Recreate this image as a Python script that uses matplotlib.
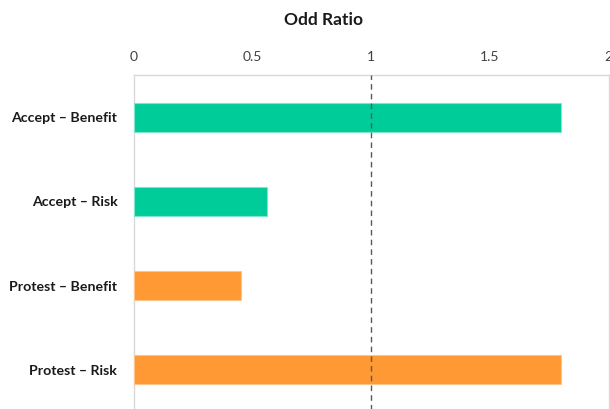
import matplotlib
matplotlib.use("Agg")
import matplotlib.pyplot as plt

# ── Data ──────────────────────────────────────────────────────────────────────
CATEGORIES = ["Accept – Benefit", "Accept – Risk", "Protest – Benefit", "Protest – Risk"]
ODDS_RATIO = [1.80, 0.56, 0.45, 1.80]
GROUPS     = ["accept", "accept", "protest", "protest"]
X_TICKS    = [0, 0.5, 1, 1.5, 2]
X_LABELS   = ["0", "0.5", "1", "1.5", "2"]

COLORS = {"accept": "#00CC99", "protest": "#FF9933"}
EDGES  = {"accept": "#7FE5CC", "protest": "#FFC48A"}

plt.rcParams["font.family"] = ["Lato", "DejaVu Sans"]

fig = plt.figure(figsize=(6.10, 4.09), dpi=100)
ax = fig.add_axes([134 / 610, -3 / 409, 474.5 / 610, 337 / 409])

y = list(range(len(CATEGORIES)))
ax.barh(y, ODDS_RATIO, height=0.345,
        color=[COLORS[g] for g in GROUPS],
        edgecolor=[EDGES[g] for g in GROUPS], linewidth=0.8, zorder=3)

# reference line at OR = 1
ax.axvline(1, color="#595959", linewidth=1.0, linestyle=(0, (4, 3)), zorder=4)

ax.set_xlim(0, 2)
ax.set_ylim(len(CATEGORIES) - 0.5, -0.5)
ax.set_yticks(y)
ax.set_yticklabels(CATEGORIES, fontweight="bold", fontsize=10.2, color="#1a1a1a")
ax.set_xticks(X_TICKS)
ax.set_xticklabels(X_LABELS, fontsize=10, color="#404040")
ax.xaxis.tick_top()
ax.tick_params(axis="x", length=0, pad=8.5)
ax.tick_params(axis="y", length=0, pad=12)

for side in ["top", "right", "bottom", "left"]:
    ax.spines[side].set_color("#D9D9D9")
    ax.spines[side].set_linewidth(1.0)

fig.text(323 / 610, 1 - 20 / 409, "Odd Ratio", ha="center", va="center",
         fontsize=12.5, fontweight="bold", color="#1a1a1a")

fig.savefig("out.png", dpi=100)
